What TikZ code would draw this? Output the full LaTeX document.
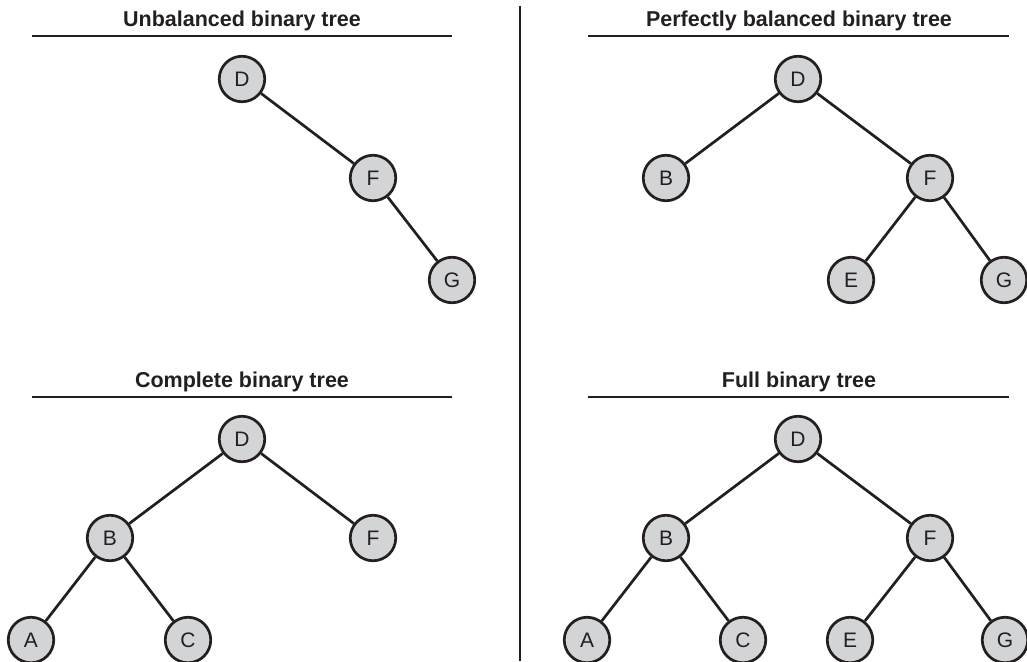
\documentclass[tikz,border=0pt]{standalone}
\usepackage{fontspec}
\setmainfont{Liberation Sans}
\definecolor{ink}{RGB}{35,31,32}
\definecolor{nodefill}{RGB}{211,212,214}
\begin{document}
\begin{tikzpicture}[x=1pt,y=-1pt,
  treenode/.style={circle,draw=ink,fill=nodefill,line width=2.7pt,minimum size=45.5pt,inner sep=0pt,font=\fontsize{21}{21}\selectfont,text=ink},
  edge/.style={draw=ink,line width=2.7pt},
  title/.style={anchor=base,inner sep=0pt,font=\fontsize{21.5}{21.5}\selectfont\bfseries,text=ink},
  rule/.style={draw=ink,line width=2.8pt}]
\useasboundingbox (0,0) rectangle (1027,661);
% divider
\coordinate (dvT) at (520,6);
\coordinate (dvB) at (520,661);
\draw[rule,line width=2.5pt] (dvT) -- (dvB);
% titles and rules
\node[title] (t1) at (242,27) {Unbalanced binary tree};
\node[title] (t2) at (799,27) {Perfectly balanced binary tree};
\node[title] (t3) at (242,387) {Complete binary tree};
\node[title] (t4) at (799,387) {Full binary tree};
\coordinate (r1a) at (32,36); \coordinate (r1b) at (452,36);
\coordinate (r2a) at (588,36); \coordinate (r2b) at (1009,36);
\coordinate (r3a) at (32,397); \coordinate (r3b) at (452,397);
\coordinate (r4a) at (588,397); \coordinate (r4b) at (1009,397);
\draw[rule] (r1a) -- (r1b);
\draw[rule] (r2a) -- (r2b);
\draw[rule] (r3a) -- (r3b);
\draw[rule] (r4a) -- (r4b);
% Unbalanced
\node[treenode] (uD) at (242,79) {D};
\node[treenode] (uF) at (373,178) {F};
\node[treenode] (uG) at (452,280) {G};
\draw[edge] (uD) -- (uF);
\draw[edge] (uF) -- (uG);
% Perfectly balanced
\node[treenode] (pD) at (798,79) {D};
\node[treenode] (pB) at (666,178) {B};
\node[treenode] (pF) at (930,178) {F};
\node[treenode] (pE) at (851,280) {E};
\node[treenode] (pG) at (1004,280) {G};
\draw[edge] (pD) -- (pB);
\draw[edge] (pD) -- (pF);
\draw[edge] (pF) -- (pE);
\draw[edge] (pF) -- (pG);
% Complete
\node[treenode] (cD) at (242,439) {D};
\node[treenode] (cB) at (110,538) {B};
\node[treenode] (cF) at (373,538) {F};
\node[treenode] (cA) at (31,640) {A};
\node[treenode] (cC) at (188,640) {C};
\draw[edge] (cD) -- (cB);
\draw[edge] (cD) -- (cF);
\draw[edge] (cB) -- (cA);
\draw[edge] (cB) -- (cC);
% Full
\node[treenode] (fD) at (798,439) {D};
\node[treenode] (fB) at (666,538) {B};
\node[treenode] (fF) at (930,538) {F};
\node[treenode] (fA) at (587,640) {A};
\node[treenode] (fC) at (743,640) {C};
\node[treenode] (fE) at (850,640) {E};
\node[treenode] (fG) at (1005,640) {G};
\draw[edge] (fD) -- (fB);
\draw[edge] (fD) -- (fF);
\draw[edge] (fB) -- (fA);
\draw[edge] (fB) -- (fC);
\draw[edge] (fF) -- (fE);
\draw[edge] (fF) -- (fG);
\end{tikzpicture}
\end{document}
